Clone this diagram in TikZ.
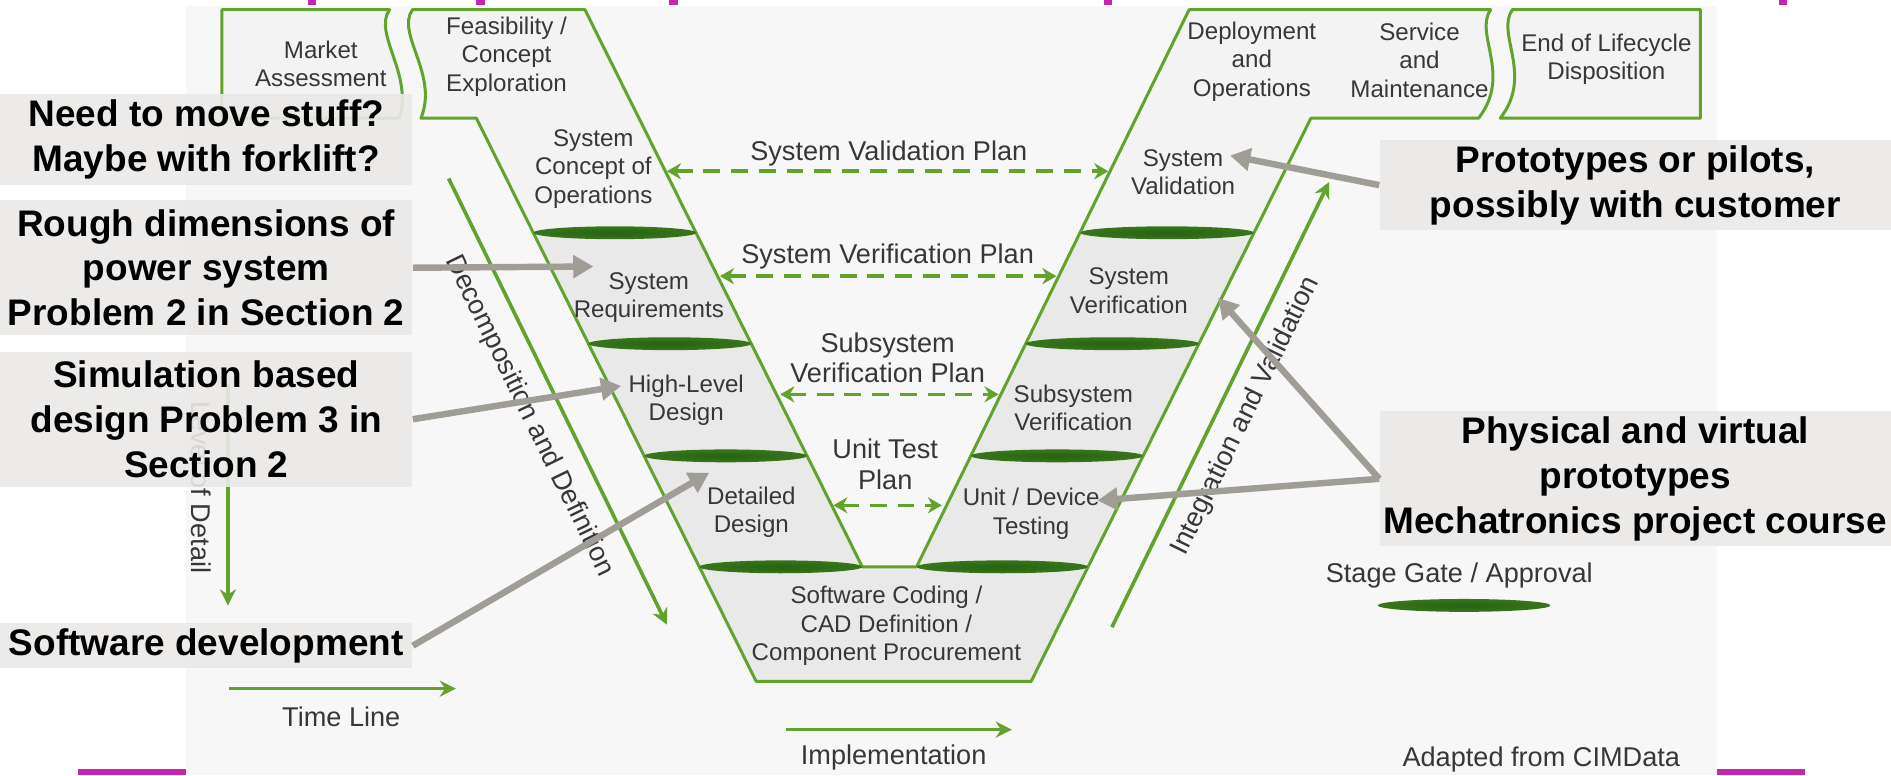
\documentclass[tikz,border=0pt]{standalone}
\usepackage{fontspec}
\setmainfont{Liberation Sans}
\usepackage{tikz}
\usetikzlibrary{arrows.meta, positioning, calc}

\definecolor{vgreen}{RGB}{98,162,45}
\definecolor{gategreen}{RGB}{38,98,18}
\definecolor{photobg}{RGB}{247,247,247}
\definecolor{boxgray}{RGB}{233,233,233}
\definecolor{toplight}{RGB}{243,243,243}
\definecolor{notegray}{RGB}{234,233,231}
\definecolor{callout}{RGB}{160,156,150}
\definecolor{labelgray}{RGB}{55,55,55}
\definecolor{slidepink}{RGB}{196,38,180}

% outline of the V (feasibility ... deployment/service)
\newcommand{\vshapepath}{(342,8) -- (485,8) -- (715,470) -- (760,470) -- (986,8) -- (1236,8)
  .. controls (1222,28) and (1254,62) .. (1226,98) -- (1087,98) -- (855,565) -- (627,565)
  -- (395,98) -- (349,98) .. controls (364,62) and (328,28) .. (342,8) -- cycle}

\begin{document}
\begin{tikzpicture}[
    x=0.6pt, y=-0.6pt,
    vline/.style={draw=vgreen, line width=1.5pt, line join=round},
    gate/.style={inner color=gategreen, outer color=gategreen!70!vgreen},
    stagelabel/.style={align=center, text=labelgray, inner sep=0pt, font=\fontsize{12}{14.1}\selectfont},
    planlabel/.style={align=center, text=labelgray, inner sep=0pt, font=\fontsize{13.5}{15}\selectfont},
    planarrow/.style={draw=vgreen, line width=1.8pt, dash pattern=on 8.4pt off 5.4pt, {Stealth[length=7pt,width=8pt]}-{Stealth[length=7pt,width=8pt]}},
    flowarrow/.style={draw=vgreen, line width=1.8pt, -{Stealth[length=8pt,width=8pt]}},
    note/.style={fill=notegray, fill opacity=0.9, text opacity=1, align=center, inner sep=0pt, font=\fontsize{18.4}{22.3}\selectfont\bfseries},
    pointer/.style={draw=callout, line width=3.2pt, -{Triangle[length=10pt,width=11pt]}}
]

% Canvas
\useasboundingbox (0,0) rectangle (1568,643);
\fill[photobg] (154,5) rectangle (1424,643);
\foreach \px in {255,395,555,915,1475}
    \fill[slidepink] (\px,0) rectangle ++(7,4);
\fill[slidepink] (65,638) rectangle (154,643);
\fill[slidepink] (1424,638) rectangle (1497,643);

% Lifecycle stages
\filldraw[vline, fill=toplight] (184,8) -- (323,8) .. controls (309,28) and (343,62) .. (331,98) -- (184,98) -- cycle;
\fill[toplight] \vshapepath;
\fill[boxgray] (442.2,193) -- (577.1,193) -- (622.9,285) -- (487.9,285) -- cycle;
\fill[boxgray] (487.9,285) -- (622.9,285) -- (669.2,378) -- (534.1,378) -- cycle;
\fill[boxgray] (534.1,378) -- (669.2,378) -- (715,470) -- (579.8,470) -- cycle;
\fill[boxgray] (579.8,470) -- (902.2,470) -- (855,565) -- (627,565) -- cycle;
\fill[boxgray] (805,378) -- (947.9,378) -- (902.2,470) -- (760,470) -- cycle;
\fill[boxgray] (850.5,285) -- (994.1,285) -- (947.9,378) -- (805,378) -- cycle;
\fill[boxgray] (895.5,193) -- (1039.8,193) -- (994.1,285) -- (850.5,285) -- cycle;
\draw[vline] \vshapepath;
\filldraw[vline, fill=toplight] (1254,8) -- (1410,8) -- (1410,98) -- (1244,98) .. controls (1272,62) and (1240,28) .. (1254,8) -- cycle;

% Stage gates
\foreach \cx/\cy/\rx in {509.7/193/67.5, 555.4/285/67.5, 601.7/378/67.5, 647.4/470/67.6,
                         967.7/193/72, 922.3/285/72, 876.5/378/71.5, 831.1/470/71}
    \shade[gate] (\cx,\cy) ellipse [x radius=\rx*0.6pt, y radius=3.2pt];

% Stage labels
\node[stagelabel] (market) at (266,53) {Market\\Assessment};
\node[stagelabel] (feas) at (420,47) {Feasibility /\\Concept\\Exploration};
\node[stagelabel] (conops) at (492,140) {System\\Concept of\\Operations};
\node[stagelabel] (sysreq) at (538,247) {System\\Requirements};
\node[stagelabel] (hld) at (569,332) {High-Level\\Design};
\node[stagelabel] (dd) at (623,425) {Detailed\\Design};
\node[stagelabel] (code) at (735,519) {Software Coding /\\CAD Definition /\\Component Procurement};
\node[stagelabel] (unit) at (855,426) {Unit / Device\\Testing};
\node[stagelabel] (subver) at (890,338) {Subsystem\\Verification};
\node[stagelabel] (sysver) at (936,241) {System\\Verification};
\node[stagelabel] (sysval) at (981,143) {System\\Validation};
\node[stagelabel] (deploy) at (1038,51) {Deployment\\and\\Operations};
\node[stagelabel] (service) at (1177,50) {Service\\and\\Maintenance};
\node[stagelabel] (eol) at (1332,49) {End of Lifecycle\\Disposition};

% Plans
\node[planlabel] (valplan) at (737,127) {System Validation Plan};
\node[planlabel] (verplan) at (736,213) {System Verification Plan};
\node[planlabel] (subplan) at (736,297) {Subsystem\\Verification Plan};
\node[planlabel] (unitplan) at (734,385) {Unit Test\\Plan};
\coordinate (valL) at (553,142);  \coordinate (valR) at (919,142);
\coordinate (verL) at (597,229);  \coordinate (verR) at (876,229);
\coordinate (subL) at (647,327);  \coordinate (subR) at (828,327);
\coordinate (unitL) at (691,419); \coordinate (unitR) at (781,419);
\draw[planarrow] (valL) -- (valR);
\draw[planarrow] (verL) -- (verR);
\draw[planarrow] (subL) -- (subR);
\draw[planarrow] (unitL) -- (unitR);

% Axes
\coordinate (dec0) at (372,148);  \coordinate (dec1) at (553,518);
\coordinate (int0) at (922,520);  \coordinate (int1) at (1102,151);
\coordinate (lod0) at (189,318);  \coordinate (lod1) at (189,502);
\coordinate (tl0) at (190,571);   \coordinate (tl1) at (378,571);
\coordinate (imp0) at (652,605);  \coordinate (imp1) at (839,605);
\draw[flowarrow] (dec0) -- (dec1);
\draw[flowarrow] (int0) -- (int1);
\draw[flowarrow] (lod0) -- (lod1);
\draw[flowarrow] (tl0) -- (tl1);
\draw[flowarrow] (imp0) -- (imp1);
\node[planlabel, rotate=-64] (decomp) at (439,345) {Decomposition and Definition};
\node[planlabel, rotate=64] (integ) at (1033,345) {Integration and Validation};
\node[planlabel, rotate=-90] (lod) at (167,404) {Level of Detail};
\node[planlabel] (timeline) at (283,594) {Time Line};
\node[planlabel] (impl) at (741,628) {Implementation};

% Legend
\node[planlabel] (gatekey) at (1210,477) {Stage Gate / Approval};
\shade[gate] (1214,502) ellipse [x radius=43pt, y radius=3.2pt];
\node[planlabel] (source) at (1278,630) {Adapted from CIMData};

% Notes
\node[note, minimum width=205.2pt, minimum height=45pt] (move) at (171,115.5) {Need to move stuff?\\Maybe with forklift?};
\node[note, minimum width=205.2pt, minimum height=67.2pt] (rough) at (171,222) {Rough dimensions of\\power system\\Problem 2 in Section 2};
\node[note, minimum width=205.2pt, minimum height=67.2pt] (simul) at (171,347.6) {Simulation based\\design Problem 3 in\\Section 2};
\node[note, minimum width=205.2pt, minimum height=22.5pt] (softdev) at (171,535.4) {Software development};
\node[note, minimum width=254.4pt, minimum height=45pt] (proto) at (1356,153.5) {Prototypes or pilots,\\possibly with customer};
\node[note, minimum width=254.4pt, minimum height=67.2pt] (phys) at (1356,397) {Physical and virtual\\prototypes\\Mechatronics project course};

\coordinate (tipReq) at (492,221);
\coordinate (tipHL) at (515,320);
\coordinate (tipDD) at (588,392);
\coordinate (tipVal) at (1020,129);
\coordinate (tipVer) at (1010,247);
\coordinate (tipUnit) at (910,415);
\draw[pointer] (rough.east) -- (tipReq);
\draw[pointer] (simul.east) -- (tipHL);
\draw[pointer] (softdev.east) -- (tipDD);
\draw[pointer] (proto.west) -- (tipVal);
\draw[pointer] (phys.west) -- (tipVer);
\draw[pointer] (phys.west) -- (tipUnit);

\end{tikzpicture}
\end{document}
